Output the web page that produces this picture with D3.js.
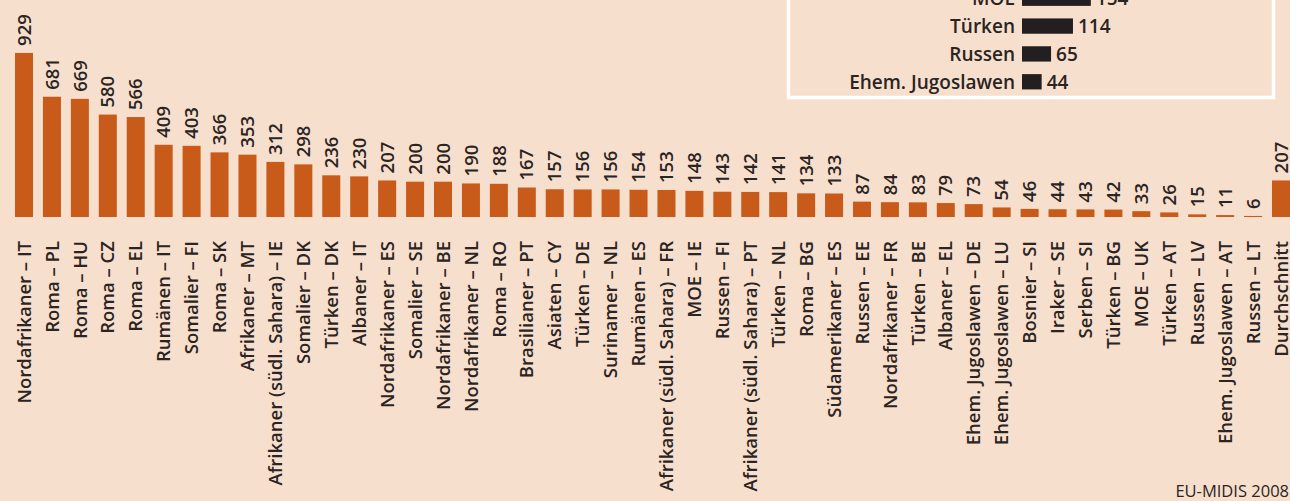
<!DOCTYPE html>
<html>
<head>
<meta charset="utf-8">
<script src="https://cdn.jsdelivr.net/npm/d3@7"></script>
<style>
  body { margin: 0; background: #f7dfcd; }
  svg { display: block; font-family: "Open Sans", "Noto Sans", sans-serif; }
  .cat text { font-family: "Open Sans", "Noto Sans", sans-serif; font-size: 18.5px; font-weight: 600; }
</style>
</head>
<body>
<div class="chart"></div>
<script>
// groups and countries, sorted as in the print
var categories = [
  "Nordafrikaner – IT", "Roma – PL", "Roma – HU", "Roma – CZ", "Roma – EL",
  "Rumänen – IT", "Somalier – FI", "Roma – SK", "Afrikaner – MT",
  "Afrikaner (südl. Sahara) – IE", "Somalier – DK", "Türken – DK", "Albaner – IT",
  "Nordafrikaner – ES", "Somalier – SE", "Nordafrikaner – BE", "Nordafrikaner – NL",
  "Roma – RO", "Brasilianer – PT", "Asiaten – CY", "Türken – DE", "Surinamer – NL",
  "Rumänen – ES", "Afrikaner (südl. Sahara) – FR", "MOE – IE", "Russen – FI",
  "Afrikaner (südl. Sahara) – PT", "Türken – NL", "Roma – BG", "Südamerikaner – ES",
  "Russen – EE", "Nordafrikaner – FR", "Türken – BE", "Albaner – EL",
  "Ehem. Jugoslawen – DE", "Ehem. Jugoslawen – LU", "Bosnier – SI", "Iraker – SE",
  "Serben – SI", "Türken – BG", "MOE – UK", "Türken – AT", "Russen – LV",
  "Ehem. Jugoslawen – AT", "Russen – LT", "Durchschnitt"
];
var values = [
  929, 681, 669, 580, 566, 409, 403, 366, 353, 312, 298, 236, 230, 207, 200,
  200, 190, 188, 167, 157, 156, 156, 154, 153, 148, 143, 142, 141, 134, 133,
  87, 84, 83, 79, 73, 54, 46, 44, 43, 42, 33, 26, 15, 11, 6, 207
];

// inset box (top rows are cut off by the frame)
var insetGroups = ["MOE", "Türken", "Russen", "Ehem. Jugoslawen"];
var insetValues = [154, 114, 65, 44];

var source = "EU-MIDIS 2008";

var W = 1290, H = 501;
var bg = "#f7dfcd", barColor = "#c95b1a", ink = "#2a2422";

var svg = d3.select(".chart").append("svg")
    .attr("width", W)
    .attr("height", H);

svg.append("rect")
    .attr("width", W).attr("height", H)
    .attr("fill", bg);

var x = d3.scaleBand()
    .domain(categories)
    .range([15, 1290])
    .paddingInner(0.355)
    .paddingOuter(0);

var base = 217;
var y = d3.scaleLinear()
    .domain([0, 1000])
    .range([base, base - 176.6]);

var data = categories.map(function(c, i) { return { name: c, value: values[i] }; });

svg.selectAll(".bar")
    .data(data)
    .enter().append("rect")
    .attr("class", "bar")
    .attr("x", function(d) { return x(d.name); })
    .attr("y", function(d) { return y(d.value); })
    .attr("width", x.bandwidth())
    .attr("height", function(d) { return base - y(d.value); })
    .attr("fill", barColor);

// value labels, rotated
svg.selectAll(".val")
    .data(data)
    .enter().append("text")
    .attr("class", "val")
    .attr("transform", function(d) {
        return "translate(" + (x(d.name) + x.bandwidth() / 2) + "," + (y(d.value) - 7) + ") rotate(-90)";
    })
    .attr("dy", "0.36em")
    .attr("fill", ink)
    .style("font-size", "18.5px")
    .style("font-weight", 600)
    .text(function(d) { return d.value; });

// category axis
var xAxis = d3.axisBottom(x).tickSize(0).tickPadding(0);
var gx = svg.append("g")
    .attr("class", "cat")
    .attr("transform", "translate(0," + base + ")")
    .call(xAxis);
gx.attr("font-family", null).attr("font-size", null);
gx.select(".domain").remove();
gx.selectAll("text")
    .attr("transform", "rotate(-90)")
    .attr("x", -24)
    .attr("y", 0)
    .attr("dy", "0.36em")
    .attr("text-anchor", "end")
    .attr("fill", ink);

// inset box
var box = svg.append("g");
box.append("rect")
    .attr("x", 788.5).attr("y", -20)
    .attr("width", 485).attr("height", 117.5)
    .attr("fill", "none")
    .attr("stroke", "#ffffff")
    .attr("stroke-width", 3.5);

var ix = d3.scaleLinear().domain([0, 200]).range([1022, 1022 + 89.4]);
var iy = d3.scaleBand().domain(insetGroups).range([-15, 95]).paddingInner(0.45).paddingOuter(0.2);

var rows = box.selectAll(".row")
    .data(insetGroups.map(function(g, i) { return { name: g, value: insetValues[i] }; }))
    .enter().append("g")
    .attr("class", "row");

rows.append("rect")
    .attr("x", ix(0))
    .attr("y", function(d) { return iy(d.name); })
    .attr("width", function(d) { return ix(d.value) - ix(0); })
    .attr("height", iy.bandwidth())
    .attr("fill", "#231f20");

rows.append("text")
    .attr("x", ix(0) - 7)
    .attr("y", function(d) { return iy(d.name) + iy.bandwidth() / 2; })
    .attr("dy", "0.36em")
    .style("text-anchor", "end")
    .style("font-size", "19px")
    .style("font-weight", 600)
    .attr("fill", ink)
    .text(function(d) { return d.name; });

rows.append("text")
    .attr("x", function(d) { return ix(d.value) + 5; })
    .attr("y", function(d) { return iy(d.name) + iy.bandwidth() / 2; })
    .attr("dy", "0.36em")
    .style("font-size", "19px")
    .style("font-weight", 600)
    .attr("fill", ink)
    .text(function(d) { return d.value; });

svg.append("text")
    .attr("x", W - 1)
    .attr("y", 497)
    .style("text-anchor", "end")
    .style("font-size", "16.5px")
    .attr("fill", ink)
    .text(source);
</script>
</body>
</html>
